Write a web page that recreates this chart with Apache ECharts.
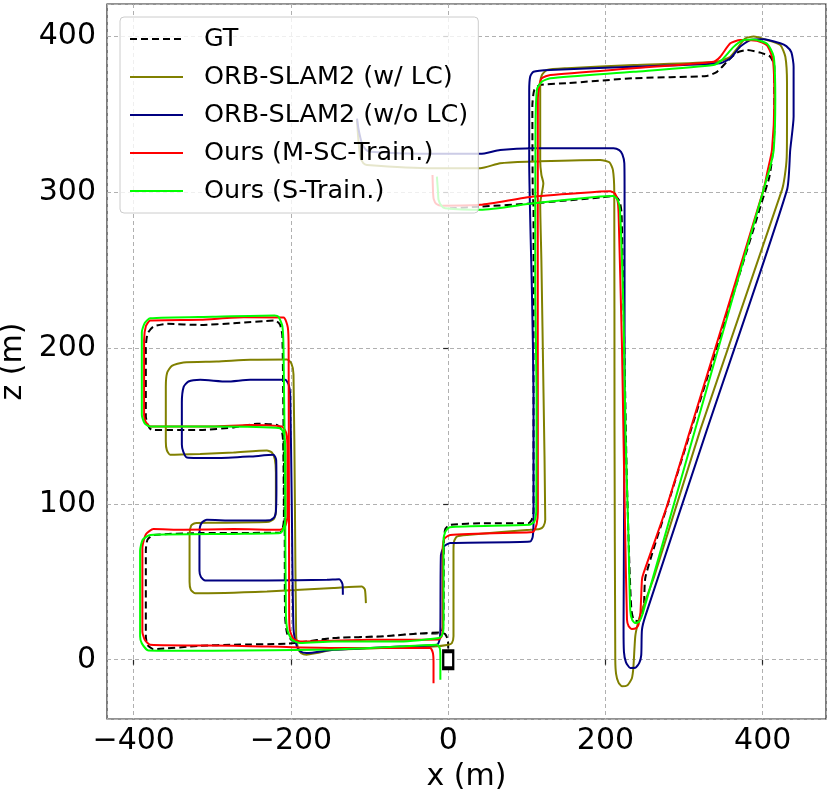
<!DOCTYPE html>
<html>
<head>
<meta charset="utf-8">
<title>trajectory</title>
<script src="https://cdn.jsdelivr.net/npm/echarts@6/dist/echarts.min.js"></script>
<style>
  html, body { margin: 0; padding: 0; background: #fff; }
  #chart { width: 831px; height: 796px; }
</style>
</head>
<body>
<div id="chart"></div>
<script>
// axis ranges (m)
const xRange = [-434, 480.5]
const zRange = [-38, 420.5]
const xTickValues = [-400, -200, 0, 200, 400]
const zTickValues = [0, 100, 200, 300, 400]

const seriesNames = ['GT', 'ORB-SLAM2 (w/ LC)', 'ORB-SLAM2 (w/o LC)', 'Ours (M-SC-Train.)', 'Ours (S-Train.)']
const seriesColors = ['#000000', '#808000', '#000080', '#ff0000', '#00ff00']

// trajectories, each point is [x, z]
const gtPath = [
  [2, 289.5], [40.7, 290.6], [108.5, 292.7], [195, 296.5], [211, 297.5], [218, 294], [220.5, 286],
  [224, 200], [227, 120], [230.5, 60], [233, 32], [236, 25.5], [241, 24.8], [246, 28], [249, 36],
  [251, 53.4], [282.4, 104.7], [407.5, 307.7], [411.8, 320.5], [414.8, 340], [414.8, 380.3],
  [409.7, 386.7], [397, 389.3], [380, 391], [367.3, 389.3], [354.6, 383.5], [341.9, 377], [329, 374.4],
  [235.7, 372.9], [151, 369.7], [117, 368.6], [109.5, 365.4], [107, 355], [107.5, 300], [108.5, 290],
  [108.5, 200], [108.5, 95], [106, 89.5], [102, 87.6], [45, 87.6], [2.5, 86.5], [-3.5, 84], [-5.5, 78],
  [-6, 25], [-7.5, 19], [-12, 17], [-40, 16.7], [-82, 15], [-146, 13.9], [-188, 11.2], [-199, 12.5],
  [-205, 17], [-207.5, 28], [-208, 84], [-209.5, 150], [-211, 208], [-214, 215], [-220, 217.5],
  [-273, 215.8], [-315.5, 214.7], [-358, 215.4], [-375, 213.6], [-382.5, 209], [-384.6, 200],
  [-384.6, 156], [-382, 150.5], [-377, 147.4], [-315.5, 147.4], [-273, 149], [-243, 151.3], [-218, 150.6],
  [-212, 147.4], [-210, 140], [-209, 90], [-210.5, 84.4], [-214, 81.6], [-315.5, 81.2], [-375, 80],
  [-382.5, 77], [-384.6, 70], [-384.6, 15], [-382.5, 9.5], [-375, 6.8], [-315.5, 9], [-273, 9.6],
  [-205, 10.3], [-188, 11.2], [-146, 13.9], [-82, 15], [-40, 16.7], [-10, 17.5], [-4, 16.5],
  [-0.5, 12.8], [0, 7.5], [0, 2]
]

const orbLcPath = [
  [-116, 346], [-114.5, 335], [-112, 322.6], [-108, 318.5], [-103.4, 317.3], [-18.7, 315.2], [40.7, 315.2],
  [66, 318.4], [100, 319.4], [193.4, 320.5], [205, 319], [209.5, 314], [211.2, 300], [211.5, 150],
  [212.5, 0], [213.5, -9], [216.5, -14.5], [221, -17], [228, -16.3], [233.5, -12], [235.5, -5],
  [237.9, 15], [241, 23], [245, 30], [262, 53.4], [320.6, 147.4], [424.5, 301.3], [428, 310],
  [430.5, 322], [430.9, 345], [430.9, 369.7], [428.8, 386.7], [422.4, 394.2], [405.5, 397.4],
  [388.4, 399.6], [377.9, 398.5], [369.3, 393.2], [358.8, 386.7], [341.9, 383.5], [235.7, 381.4],
  [151, 379.3], [125.6, 378.2], [119.2, 375], [117, 369.7], [117, 320], [118.5, 311], [121, 305.6],
  [119, 299], [117, 292.7], [118.5, 256], [121.2, 171], [123.4, 89.7], [121, 85.5], [116, 83.8],
  [104, 83.3], [23.8, 80], [11, 79], [7.5, 76], [6.7, 70], [6.7, 15], [4.7, 10.7], [0.4, 9.6],
  [-18.7, 8.5], [-146, 6.4], [-167, 4.3], [-180, 3.2], [-187, 4.2], [-191, 7.5], [-193.4, 15],
  [-195, 100], [-196.8, 183], [-199.5, 190], [-205.2, 192.6], [-252, 192.3], [-294.3, 191.2],
  [-336.8, 190.6], [-351.5, 188.5], [-357.5, 184], [-359.2, 175], [-359.2, 140], [-358, 134.6],
  [-353.7, 131.5], [-315.5, 132], [-273, 132.9], [-230.6, 134.2], [-224.3, 132.9], [-220.5, 128.5],
  [-219.2, 120], [-219.2, 95], [-221.5, 90.5], [-228, 88.5], [-300, 87.8], [-322, 87.6], [-327, 86],
  [-329, 80], [-329, 50], [-327.5, 45], [-322, 42.6], [-230.6, 43.8], [-146, 46], [-109.8, 47],
  [-106, 45], [-104.7, 36.3]
]

const orbNoLcPath = [
  [-116, 347], [-114, 340], [-109.8, 331.2], [-105, 327.2], [-99.2, 325.8], [-18.7, 324.4], [40.7, 324.4],
  [66, 326.9], [108.5, 328], [210.3, 328], [217.5, 326.8], [221.5, 324], [224, 318.4], [224.3, 300],
  [224.2, 150], [223, 20], [223.5, 5], [226, -1.5], [231.5, -5.3], [238, -5.2], [243, -2], [245.5, 3],
  [246.4, 19.2], [250.6, 27.8], [329, 147.4], [430.9, 301.3], [435, 327], [439.3, 348.3], [439.3, 380.3],
  [436.5, 389.5], [430, 393.5], [422.4, 395.3], [401, 397.9], [384.2, 397.4], [371.5, 393.2],
  [358.8, 385.7], [346, 382.5], [235.7, 380.3], [129.8, 378.2], [108.5, 377.1], [104.3, 374], [103, 365],
  [103, 320], [106.5, 235], [108.5, 171], [108.5, 89.7], [107.5, 79], [104.3, 75.8], [2.5, 74.8],
  [-5.5, 72.6], [-9.3, 67], [-10, 20], [-11, 13], [-14.4, 9.6], [-61, 8.5], [-146, 6.4], [-180, 4.3],
  [-188, 5.3], [-192.5, 8.5], [-196.8, 20], [-199, 100], [-201, 170], [-203, 176.5], [-207.4, 179.5],
  [-252, 179.5], [-281.5, 178.4], [-315.5, 179.5], [-330.4, 178.4], [-336.5, 175], [-338.8, 165],
  [-338.8, 138], [-337, 133.5], [-332.4, 129.7], [-294.3, 129.3], [-252, 130.3], [-222.3, 131.4],
  [-218.8, 128], [-218.5, 110], [-219.2, 95], [-221, 91.5], [-226.5, 89.5], [-273, 89.3], [-307, 89.7],
  [-313, 88.2], [-315.8, 85], [-316.4, 78], [-316.4, 57], [-314.5, 53], [-309, 50.8], [-230.6, 50.8],
  [-154.3, 51.3], [-138.5, 51.6], [-134.5, 48.5], [-134, 41.7]
]

const msctPath = [
  [-20, 310.9], [-19.3, 300], [-18.5, 295.5], [-15, 292.3], [-8, 291.2], [40.7, 291.7], [108.5, 297],
  [193.4, 300.2], [206, 300.4], [212, 299], [215.5, 294], [216.7, 286], [221, 200.8], [223, 141],
  [225, 83.3], [227.4, 25.6], [229.5, 21.5], [233.7, 19.7], [239, 20.3], [242, 22.4], [244.5, 30],
  [246.4, 51.3], [248.5, 55.6], [278, 98.3], [307.9, 147.4], [401, 301.3], [406, 313], [411.8, 327],
  [414.8, 359], [413, 384.6], [405.5, 394], [392.7, 397], [371.5, 397.4], [358.8, 395.3], [346, 386.7],
  [337.5, 383.5], [235.7, 379.3], [129.8, 375], [119, 372.9], [116, 368.6], [114, 360], [113.9, 200],
  [114, 95], [112.5, 87], [108.5, 82.2], [104.3, 81.7], [2.5, 80], [-5, 77.5], [-7, 70], [-7, 20],
  [-8.5, 15], [-12.3, 13], [-103.4, 12.8], [-188, 11.7], [-197, 13.5], [-201.5, 19.2], [-202.3, 30],
  [-203, 200], [-204, 213], [-209.5, 219.5], [-260, 219.6], [-315.5, 218], [-379, 217.5], [-384.5, 214],
  [-386.8, 205], [-386.8, 157], [-385, 152.8], [-379, 149.6], [-300, 149.6], [-252, 150.6],
  [-211.6, 149.6], [-206, 145.3], [-204.5, 135], [-204.5, 92], [-207, 86], [-213.7, 83.3], [-273, 83.8],
  [-336.8, 83.3], [-375, 83.8], [-384.5, 80.5], [-389, 72], [-389, 18], [-386, 12.8], [-379, 9.6],
  [-273, 9], [-146, 7.5], [-23, 7.5], [-19.5, 4.3], [-18.7, -2], [-18.7, -15]
]

const sTrainPath = [
  [-14.4, 309.8], [-13, 300], [-12.3, 295], [-8.5, 291], [-3.8, 289.5], [40.7, 288.5], [108.5, 292.7],
  [193.4, 297], [210, 297.4], [215.5, 295], [218.5, 288], [223, 222], [225.5, 145], [229, 83],
  [231.5, 32], [234, 25.5], [238, 23.5], [243, 24.5], [247, 29], [251, 36], [404.6, 307.7], [409, 315],
  [414, 327], [416, 359], [414, 386.7], [405.5, 395], [388, 397.8], [375.7, 397.4], [363, 393],
  [348, 384.6], [337.5, 381.4], [235.7, 377], [129.8, 372.9], [119, 370.7], [113, 366], [111, 340],
  [110.7, 235], [112.4, 171], [112, 95], [109.5, 88.5], [103, 86.5], [2, 85], [-3.8, 82], [-6, 76],
  [-6, 20], [-8, 15.5], [-12, 13.9], [-61, 11.7], [-146, 11.7], [-188, 10.7], [-199, 12.8],
  [-204.5, 19], [-206.5, 30], [-207.5, 110], [-209.5, 200], [-211, 214], [-216, 220], [-221, 220.8],
  [-300, 220], [-379, 219], [-386, 216], [-389.7, 210], [-389.7, 157], [-386, 151.5], [-379, 149.6],
  [-300, 149.6], [-213.7, 148.5], [-208.5, 144], [-207, 130], [-207, 92], [-209, 85], [-213.7, 81.2],
  [-273, 80.7], [-379, 80], [-388.5, 77], [-391.9, 70], [-391.9, 15], [-389.7, 10.5], [-381.3, 6],
  [-300, 5.8], [-146, 6.5], [-61, 8.5], [-14, 9.6], [-10.5, 7], [-10, 0], [-10, -12.8]
]

// start marker
const startPoint = [[0, 0]]

const paths = [gtPath, orbLcPath, orbNoLcPath, msctPath, sTrainPath]
const fontFamily = 'DejaVu Sans'
const minus = (v) => String(v).replace('-', '\u2212')

const chart = echarts.init(document.getElementById('chart'), null, { renderer: 'canvas' })

// series drawn in order, all below the legend (legend z = 4)
const lineSeries = paths.map((path, i) => ({
  name: seriesNames[i],
  type: 'line',
  data: path,
  symbol: 'none',
  smooth: 0.2,
  animation: false,
  lineStyle: {
    color: seriesColors[i],
    width: 2,
    type: i === 0 ? [7, 4] : 'solid'
  },
  itemStyle: { color: seriesColors[i] },
  z: 2
}))

const option = {
  animation: false,
  backgroundColor: '#ffffff',
  textStyle: { fontFamily: fontFamily },
  grid: {
    left: 107,
    right: 5,
    top: 4,
    bottom: 77,
    outerBoundsMode: 'none',
    containLabel: false,
    show: true,
    borderColor: '#262626',
    borderWidth: 1.2,
    backgroundColor: 'transparent'
  },
  legend: {
    data: seriesNames,
    orient: 'vertical',
    left: 120,
    top: 17,
    padding: [8, 10, 8, 9],
    itemWidth: 53,
    itemHeight: 14,
    itemGap: 10,
    itemStyle: { opacity: 0 },
    backgroundColor: 'rgba(255,255,255,0.8)',
    borderColor: '#cccccc',
    borderWidth: 1,
    borderRadius: 4,
    textStyle: {
      fontFamily: fontFamily,
      fontSize: 25.5,
      lineHeight: 28,
      color: '#000',
      padding: [0, 0, 0, 16]
    }
  },
  xAxis: {
    type: 'value',
    min: xRange[0],
    max: xRange[1],
    minInterval: 200,
    maxInterval: 200,
    name: 'x (m)',
    nameLocation: 'middle',
    nameGap: 43,
    nameTextStyle: { fontFamily: fontFamily, fontSize: 30, color: '#000' },
    axisLine: { show: false },
    axisTick: { show: true, length: 5, lineStyle: { color: '#262626', width: 1.2 } },
    axisLabel: {
      showMinLabel: false,
      showMaxLabel: false,
      margin: 7,
      fontFamily: fontFamily,
      fontSize: 30,
      color: '#000',
      formatter: (v) => (xTickValues.includes(v) ? minus(v) : '')
    },
    splitLine: { show: true, lineStyle: { color: '#b0b0b0', type: [4, 3], width: 1 } }
  },
  yAxis: {
    type: 'value',
    min: zRange[0],
    max: zRange[1],
    minInterval: 100,
    maxInterval: 100,
    name: 'z (m)',
    nameLocation: 'middle',
    nameGap: 72,
    nameTextStyle: { fontFamily: fontFamily, fontSize: 30, color: '#000' },
    axisLine: { show: false },
    axisTick: { show: true, length: 5, lineStyle: { color: '#262626', width: 1.2 } },
    axisLabel: {
      showMinLabel: false,
      showMaxLabel: false,
      margin: 11,
      fontFamily: fontFamily,
      fontSize: 30,
      color: '#000',
      formatter: (v) => (zTickValues.includes(v) ? minus(v) : '')
    },
    splitLine: { show: true, lineStyle: { color: '#b0b0b0', type: [4, 3], width: 1 } }
  },
  series: lineSeries.concat([{
    type: 'scatter',
    data: startPoint,
    symbol: 'rect',
    symbolSize: [10, 17],
    animation: false,
    itemStyle: { color: '#ffffff', borderColor: '#000000', borderWidth: 3, opacity: 1 },
    z: 3
  }])
}

chart.setOption(option)
</script>
</body>
</html>
